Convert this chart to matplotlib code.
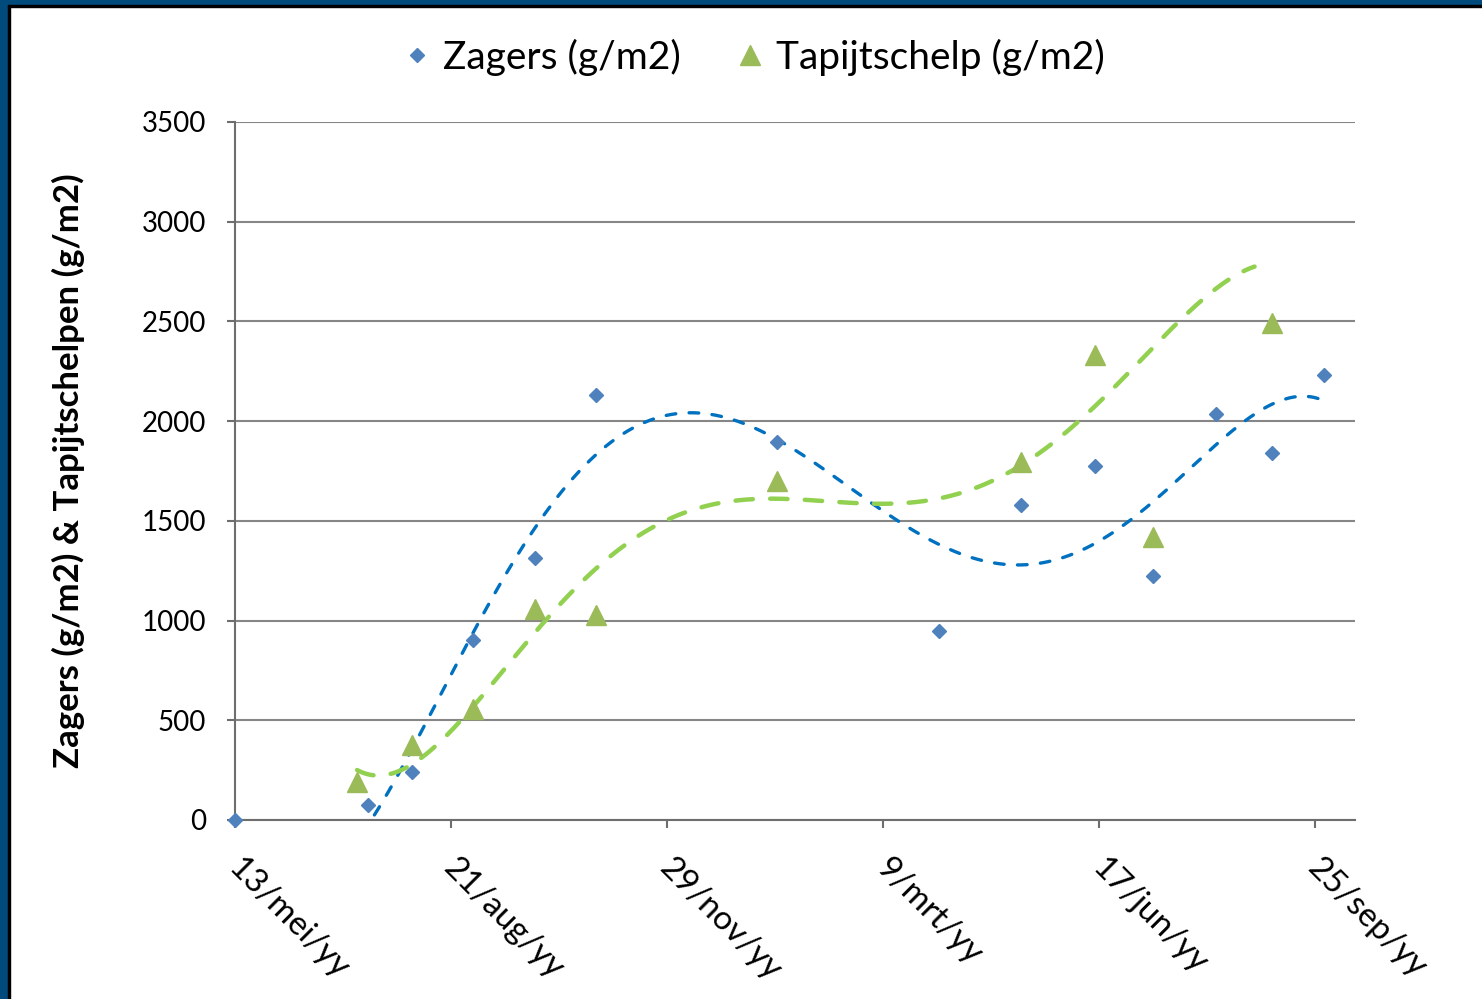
import matplotlib
matplotlib.use("Agg")
import matplotlib.pyplot as plt
import matplotlib.transforms as mtransforms
import numpy as np
from matplotlib.lines import Line2D
from matplotlib.patches import Rectangle

plt.rcParams["font.family"] = ["Lato", "DejaVu Sans"]

# x values are days counted from 13/mei
tick_days = [0, 100, 200, 300, 400, 500]
tick_labels = ["13/mei/yy", "21/aug/yy", "29/nov/yy", "9/mrt/yy", "17/jun/yy", "25/sep/yy"]

zag_days = [0, 61.5, 82, 110, 139, 167, 251, 326, 364, 398, 425, 454, 480, 504]
zag_vals = [0, 73, 240, 900, 1312, 2131, 1893, 947, 1580, 1775, 1223, 2036, 1840, 2231]

tap_days = [56.5, 82, 110, 139, 167, 251, 364, 398, 425, 480]
tap_vals = [192, 376, 557, 1057, 1028, 1700, 1795, 2332, 1420, 2494]

# trendline of the tapijtschelp series
tap_trend_days = [56.5, 64, 72, 80, 87, 99, 110, 121, 136, 147, 168, 188, 200, 225,
                  252, 275, 299, 322, 343, 364, 382, 398, 414, 425, 440, 452, 465, 472]
tap_trend_vals = [241, 226, 236, 271, 326, 440, 564, 705, 889, 1028, 1279, 1429, 1514, 1605,
                  1615, 1590, 1575, 1595, 1655, 1795, 1945, 2066, 2240, 2365, 2528, 2645, 2741, 2779]

blue_mark = "#4F81BD"
green_mark = "#9BBB59"
blue_trend = "#0070C0"
green_trend = "#92D050"
grid_col = "#868686"
frame_col = "#004A7C"

fig = plt.figure(figsize=(14.82, 9.99), dpi=100)
ax = fig.add_axes([0.1586, 0.1792, 0.9143 - 0.1586, 0.8779 - 0.1792])

# polynomial trendlines
p_zag = np.polyfit(zag_days, zag_vals, 5)
xx = np.linspace(zag_days[0], zag_days[-1], 400)
ax.plot(xx, np.polyval(p_zag, xx), color=blue_trend, lw=2.4,
        ls=(0, (2.9, 4.0)), dash_capstyle="round", zorder=3)

p_tap = np.polyfit(tap_trend_days, tap_trend_vals, 6)
xx = np.linspace(tap_trend_days[0], tap_trend_days[-1], 400)
ax.plot(xx, np.polyval(p_tap, xx), color=green_trend, lw=3.2,
        ls=(0, (3.9, 3.9)), dash_capstyle="round", zorder=3)

ax.plot(zag_days, zag_vals, ls="none", marker="D", ms=7.5, color=blue_mark, zorder=4, clip_on=False)
ax.plot(tap_days, tap_vals, ls="none", marker="^", ms=15, color=green_mark, zorder=4)

ax.set_xlim(0, 518.5)
ax.set_ylim(0, 3500)
ax.set_xticks(tick_days)
ax.set_yticks(range(0, 3501, 500))

ax.yaxis.grid(True, color=grid_col, lw=1.5)
ax.set_axisbelow(True)
for s in ["top", "right"]:
    ax.spines[s].set_visible(False)
for s in ["left", "bottom"]:
    ax.spines[s].set_color("#6E6E6E")
    ax.spines[s].set_linewidth(1.5)
ax.tick_params(axis="both", length=6, width=1.5, color="#6E6E6E")
ax.tick_params(axis="y", pad=15, labelsize=20)
ax.tick_params(axis="x", pad=14)

ax.set_xticklabels(tick_labels, rotation=-45, ha="left", va="top", rotation_mode="anchor",
                   fontsize=24)
shift = mtransforms.ScaledTranslation(8 / 100, -5 / 100, fig.dpi_scale_trans)
for lab in ax.get_xticklabels():
    lab.set_transform(lab.get_transform() + shift)

ax.set_ylabel("Zagers (g/m2) & Tapijtschelpen (g/m2)", fontsize=25, fontweight="bold")
ax.yaxis.set_label_coords(-0.134, 0.5)

handles = [
    Line2D([], [], ls="none", marker="D", ms=7.5, color=blue_mark),
    Line2D([], [], ls="none", marker="^", ms=15, color=green_mark),
]
fig.legend(handles, ["Zagers (g/m2)", "Tapijtschelp (g/m2)"], loc="center",
           bbox_to_anchor=(753 / 1482, 1 - 57 / 999), ncol=2, frameon=False,
           fontsize=28, handletextpad=0.25, columnspacing=1.4, handlelength=0.8)

# dark frame along the left and top edge
fig.add_artist(Rectangle((0, 0), 8 / 1482, 1, transform=fig.transFigure, color=frame_col))
fig.add_artist(Rectangle((8 / 1482, 0), 2 / 1482, 1, transform=fig.transFigure, color="black"))
fig.add_artist(Rectangle((0, 1 - 5 / 999), 1, 5 / 999, transform=fig.transFigure, color=frame_col))
fig.add_artist(Rectangle((8 / 1482, 1 - 7 / 999), 1, 2 / 999, transform=fig.transFigure, color="black"))

fig.savefig("out.png", dpi=100)
